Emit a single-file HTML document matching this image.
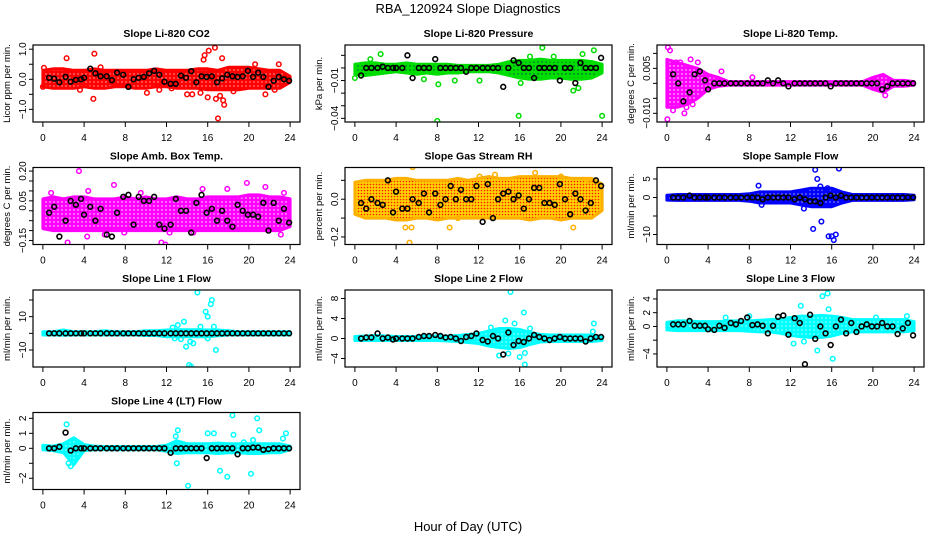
<!DOCTYPE html>
<html><head><meta charset="utf-8"><style>
html,body{margin:0;padding:0;background:#fff;}
svg{display:block;font-family:"Liberation Sans",Arial,sans-serif;}
</style></head><body>
<svg id="chart" width="936" height="540" viewBox="0 0 936 540">
<defs>
<pattern id="pat-red" width="4" height="4" patternUnits="userSpaceOnUse"><rect width="4" height="4" fill="#ff0000"/><circle cx="2" cy="2" r="0.6" fill="#fff"/></pattern>
<pattern id="pat-green" width="4" height="4" patternUnits="userSpaceOnUse"><rect width="4" height="4" fill="#00e000"/><circle cx="2" cy="2" r="0.7" fill="#044"/></pattern>
<pattern id="pat-magenta" width="4" height="4" patternUnits="userSpaceOnUse"><rect width="4" height="4" fill="#ff00ff"/><circle cx="2" cy="2" r="0.7" fill="#fff"/></pattern>
<pattern id="pat-rh" width="3" height="3" patternUnits="userSpaceOnUse"><rect width="3" height="3" fill="#ffd000"/><circle cx="1.5" cy="1.5" r="0.8" fill="#ff2000"/></pattern>
<pattern id="pat-blue" width="4" height="4" patternUnits="userSpaceOnUse"><rect width="4" height="4" fill="#0000ff"/><circle cx="2" cy="2" r="0.6" fill="#fff"/></pattern>
<pattern id="pat-cyan" width="4" height="4" patternUnits="userSpaceOnUse"><rect width="4" height="4" fill="#00ffff"/><circle cx="2" cy="2" r="0.6" fill="#fff"/></pattern>
</defs>
<text x="468" y="13" text-anchor="middle" font-size="13">RBA_120924  Slope Diagnostics</text>
<text x="468" y="531" text-anchor="middle" font-size="13">Hour of Day (UTC)</text>
</svg>
<script>
// shared x data
const bandHours = [0,1,2,3,4,5,6,7,8,9,10,11,12,13,14,15,16,17,18,19,20,21,22,23,24];
const blackHours = [0.6,1.1,1.6,2.2,2.7,3.2,3.7,4.0,4.6,5.1,5.6,6.2,6.7,7.2,7.8,8.3,8.8,9.3,9.8,10.3,10.8,11.3,11.8,12.4,12.9,13.4,13.9,14.4,14.9,15.4,15.9,16.4,16.9,17.4,17.9,18.4,18.9,19.4,19.9,20.4,20.9,21.4,21.9,22.4,22.9,23.4,23.9];
const xTicks = [0,4,8,12,16,20,24];

// Panel 1: CO2
const co2Lo = [-0.25,-0.3,-0.3,-0.3,-0.25,-0.3,-0.3,-0.25,-0.25,-0.3,-0.3,-0.25,-0.25,-0.3,-0.3,-0.3,-0.35,-0.35,-0.35,-0.35,-0.3,-0.3,-0.3,-0.3,-0.1];
const co2Hi = [0.3,0.35,0.35,0.3,0.3,0.35,0.3,0.3,0.3,0.3,0.3,0.35,0.3,0.3,0.3,0.35,0.35,0.3,0.4,0.4,0.4,0.35,0.3,0.3,0.1];
const co2OutX = [2.3,3.6,5.0,4.9,5.6,10.1,15.6,15.7,16.1,16.7,16.8,17.0,17.2,17.4,17.6,17.5,16.0,14.0,14.5,15.3,18.5,20.6,21.6,22.9,22.5,12.5,11.3,0.0,0.1];
const co2OutY = [0.7,-0.35,0.85,-0.65,0.4,-0.45,0.65,0.8,0.95,1.05,-0.65,-1.3,-0.55,0.7,-0.85,-0.7,-0.6,-0.5,-0.5,-0.45,-0.4,0.5,-0.5,0.5,-0.35,-0.3,-0.35,-0.25,0.38];
const co2BlackY = [0.05,0.02,-0.1,0.08,-0.08,-0.02,0.0,0.05,0.35,0.2,0.1,0.1,-0.03,0.22,0.15,-0.25,0.0,0.05,0.08,0.2,0.28,0.15,-0.08,-0.15,-0.15,0.12,0.05,0.27,-0.1,0.1,0.08,0.1,-0.1,0.03,0.15,0.1,0.08,0.1,0.28,0.08,0.22,0.08,-0.25,-0.05,0.08,0.0,-0.05];
const co2Ticks = [-1,-0.5,0,0.5,1];
const co2TickLabels = ["\u22121.0","","0.0","","1.0"];

// Panel 2: Pressure
const presLo = [-0.005,-0.006,-0.005,-0.004,-0.003,-0.004,-0.005,-0.004,-0.005,-0.004,-0.004,-0.003,-0.003,-0.003,-0.004,-0.006,-0.008,-0.009,-0.009,-0.008,-0.008,-0.009,-0.009,-0.008,-0.004];
const presHi = [0.003,0.004,0.004,0.003,0.003,0.004,0.003,0.003,0.003,0.003,0.002,0.002,0.002,0.002,0.003,0.005,0.006,0.006,0.007,0.006,0.006,0.006,0.006,0.005,0.003];
const presOutX = [2.5,8.0,8.1,15.9,24.0,18.2,23.2,21.2,12.1,9.7,6.7,0.0,1.5,16.1,21.7,19.3,22.1,17.0];
const presOutY = [0.011,-0.042,-0.013,-0.038,-0.038,0.016,0.014,-0.018,-0.01,-0.01,-0.009,-0.008,0.007,-0.012,-0.016,0.009,0.011,0.009];
const presBlackY = [-0.006,0,0,0,0.001,0,0,0,0,0.01,-0.008,0,0,0,0.007,0,0,0,0,0,-0.003,0,0,0,0,0,0,-0.015,0,0.006,0.004,0,0,-0.008,0,0,0,0,-0.01,0,0,-0.012,0.004,0,0,0,0.008];
const presTicks = [0.01,0,-0.01,-0.02,-0.03,-0.04];
const presTickLabels = ["","","\u22120.01","","","\u22120.04"];

// Panel 3: Li-820 Temp
const tempLo = [-0.008,-0.008,-0.007,-0.005,-0.002,-0.001,-0.0006,-0.0006,-0.0006,-0.0006,-0.0006,-0.0006,-0.0006,-0.0006,-0.0006,-0.0006,-0.0006,-0.0006,-0.0006,-0.0006,-0.002,-0.003,-0.001,-0.001,-0.0006];
const tempHi = [0.008,0.007,0.006,0.005,0.003,0.002,0.0006,0.0006,0.0006,0.0006,0.0006,0.0006,0.0006,0.0006,0.0006,0.0006,0.0006,0.0006,0.0006,0.0006,0.002,0.003,0.001,0.001,0.0006];
const tempOutX = [0.1,0.3,0.05,0.6,1.7,2.5,1.3,2.3,5.3,8.3,21.2,0.9,1.9,3.0];
const tempOutY = [0.012,0.011,-0.012,-0.009,-0.01,-0.007,0.007,0.008,0.004,0.002,-0.004,0.007,-0.008,0.007];
const tempBlackY = [0.003,0,-0.006,-0.003,0.003,0.004,0.001,-0.002,0,0,0,0,0,0,0,0,0,0,0.001,0,0.001,0,-0.001,0,0,0,0,0,0,0,-0.001,0,0,0,0,0,0,0,0,0,-0.002,-0.001,0,0,0,0,0];
const tempTicks = [0.01,0.005,0,-0.005,-0.01];
const tempTickLabels = ["","0.005","","","\u22120.010"];

// Panel 4: Amb box temp
const ambLo = [-0.09,-0.1,-0.1,-0.1,-0.1,-0.1,-0.1,-0.1,-0.1,-0.1,-0.1,-0.1,-0.1,-0.1,-0.1,-0.1,-0.1,-0.1,-0.1,-0.1,-0.1,-0.1,-0.1,-0.1,-0.08];
const ambHi = [0.06,0.07,0.06,0.07,0.07,0.06,0.06,0.06,0.07,0.06,0.07,0.06,0.06,0.07,0.06,0.06,0.07,0.07,0.07,0.07,0.08,0.08,0.07,0.07,0.06];
const ambOutX = [3.5,0.8,2.4,4.3,4.4,6.9,11.5,11.9,21.1,19.8,21.6,12.3,14.6,23.1,23.4,17.9,15.5,9.5,7.9,6.0];
const ambOutY = [0.2,0.09,-0.16,-0.13,0.1,0.13,-0.16,-0.17,-0.2,0.14,0.12,-0.11,-0.11,-0.12,0.09,0.11,0.11,0.09,-0.11,-0.12];
const ambBlackY = [-0.01,0.02,-0.13,-0.05,0.05,0.03,0.06,-0.02,0.02,-0.05,0.01,-0.12,-0.13,-0.01,0.07,0.08,-0.07,0.07,0.05,0.05,0.07,-0.07,-0.09,-0.07,0.06,0.0,0.0,-0.11,0.04,0.08,-0.01,0.01,-0.05,0.0,-0.05,-0.08,0.03,0.0,-0.02,-0.02,-0.03,0.04,-0.1,0.04,-0.05,0.01,-0.06];
const ambTicks = [0.2,0.15,0.1,0.05,0,-0.05,-0.1,-0.15];
const ambTickLabels = ["0.20","","","0.05","","","","\u22120.15"];

// Panel 5: Gas stream RH
const rhLo = [-0.08,-0.1,-0.1,-0.1,-0.11,-0.11,-0.1,-0.1,-0.11,-0.1,-0.1,-0.1,-0.1,-0.1,-0.1,-0.1,-0.1,-0.11,-0.1,-0.1,-0.11,-0.1,-0.1,-0.1,-0.06];
const rhHi = [0.09,0.1,0.1,0.1,0.11,0.11,0.1,0.1,0.1,0.1,0.11,0.1,0.11,0.12,0.11,0.11,0.12,0.12,0.12,0.12,0.12,0.11,0.11,0.11,0.08];
const rhOutX = [5.5,5.3,5.6,9.2,12.1,20.0,22.7,21.2,10.0,4.9,17.5,13.6];
const rhOutY = [-0.15,-0.23,0.17,-0.15,0.12,0.12,0.1,-0.15,-0.1,-0.15,0.14,0.13];
const rhBlackY = [-0.02,-0.05,0.0,-0.02,-0.03,0.1,-0.07,0.04,-0.05,-0.05,0.0,-0.02,0.03,-0.07,0.03,-0.03,0.0,0.07,0.0,0.05,0.0,0.0,0.07,-0.12,0.08,-0.1,0.0,0.03,0.04,0.0,0.02,-0.05,0.0,0.06,0.06,-0.02,-0.02,-0.03,0.08,0.0,-0.08,0.03,0.0,-0.06,-0.02,0.1,0.07];
const rhTicks = [0.1,0,-0.1,-0.2];
const rhTickLabels = ["","0.0","","\u22120.2"];

// Panel 6: Sample flow
const sfLo = [-0.7,-0.8,-0.8,-0.8,-0.8,-0.8,-0.8,-0.8,-1.0,-1.5,-1.5,-1.5,-1.5,-2,-2.5,-2.5,-2.5,-1.5,-0.8,-0.8,-0.8,-0.8,-0.8,-0.8,-0.6];
const sfHi = [0.6,0.8,0.8,0.8,0.8,0.8,0.8,0.8,1.0,1.5,1.5,1.5,1.5,2,2.5,2.5,2.5,1.5,0.8,0.8,0.8,0.8,0.8,0.8,0.6];
const sfOutX = [8.9,14.4,14.6,14.9,15.0,14.2,15.7,16.0,16.2,16.4,16.7,9.2,13.3,15.6];
const sfOutY = [3.2,7.5,5.0,3.0,-6.5,-8.5,-10.5,-10.5,-11.5,-10,7.8,-2,-3,2.5];
const sfBlackY = [0,0,0,0.5,0,0,0,0,0,0,0,0,0,0,0,0,0,-0.5,0,0,0,0,0,-0.5,0,-0.5,-1,-1,-1.5,0,0.5,0,0.5,0,0,0,0,0,0,0,0,0,0,0,0,0,0];
const sfTicks = [5,0,-5,-10];
const sfTickLabels = ["5","0","","\u221210"];

// Panel 7: Line 1 flow
const l1Lo = [-1,-1,-1.2,-1,-1,-1,-1,-1,-1,-1,-1.3,-1.3,-2,-2,-2,-2,-2,-1.5,-1,-1,-1,-1,-1,-1,-1];
const l1Hi = [1,1,2,1,1,1,1.5,1,1,1,1.5,1.5,2,2.2,2.2,2.2,2,2,1.5,1,1,1,1,1,1];
const l1OutX = [12.8,12.6,13.1,13.7,13.4,13.9,14.2,14.4,14.3,14.6,15.0,15.3,15.8,16.0,16.4,16.3,16.6,16.8,16.0];
const l1OutY = [-3,3.5,5,7,-3.5,-8,-19,-20,-5,-6,24.5,4,13,10,20,17.5,4,-10,-3];
const l1BlackY = [0,0,0,0,0,0,0,0,0,0,0,0,0,0,0,0,0,0,0,0,0,0,0,0,0,0,0,0,0,0,0,0,0,0,0,0,0,0,0,0,0,0,0,0,0,0,0];
const l1Ticks = [20,10,0,-10];
const l1TickLabels = ["","10","","\u221210"];

// Panel 8: Line 2 flow
const l2Lo = [-0.4,-0.4,-0.4,-0.4,-0.4,-0.4,-0.4,-0.4,-0.4,-0.5,-0.6,-0.8,-1,-1.5,-1.8,-2,-1.8,-1.2,-0.7,-0.6,-0.6,-0.6,-0.6,-0.6,-0.4];
const l2Hi = [0.4,0.5,0.6,0.5,0.4,0.4,0.4,0.5,0.5,0.5,0.6,0.8,1,1.5,2,2,1.8,1.2,0.8,0.7,0.7,0.7,0.7,0.7,0.4];
const l2OutX = [13.2,14.0,14.6,15.1,15.5,16.0,16.4,16.5,16.5,14.9,17.0,23.2,23.1];
const l2OutY = [2.2,-3.4,3.6,9.3,3,-3.7,5.2,-2.9,-5.2,-3,2,3,1.4];
const l2BlackY = [0,0.2,0.2,1,0,0.2,-0.2,0,0,0,0,0.3,0.5,0.5,0.7,0.5,0.2,0.3,0,-0.5,0.3,0.5,1,-0.3,-0.6,0.5,0,-3.2,1.2,-1.3,-0.5,-0.7,0,0.7,0.3,0,-0.3,0,0.3,0,0,0,0,-0.6,0,0.3,0.3];
const l2Ticks = [8,4,0,-4];
const l2TickLabels = ["8","4","0","\u22124"];

// Panel 9: Line 3 flow
const l3Lo = [-0.5,-0.6,-0.6,-0.6,-0.6,-0.6,-0.6,-0.6,-0.7,-0.8,-0.8,-1,-1.3,-1.5,-1.6,-1.6,-1.4,-1,-0.8,-0.8,-0.8,-0.8,-0.8,-0.8,-0.6];
const l3Hi = [0.6,0.8,0.8,0.7,0.7,0.7,0.8,0.8,0.8,0.9,1,1.1,1.3,1.5,1.5,1.6,1.5,1.3,1,1,1,1,1,1,0.7];
const l3OutX = [13.0,15.1,15.6,15.7,14.6,16.1,12.3,13.3,5.7,8.0,20.3,23.3];
const l3OutY = [3,4.4,4.8,2.5,-3.5,-4.7,-2.5,-2.2,1.3,1.5,1.3,1.5];
const l3BlackY = [0.3,0.3,0.3,0.8,0.1,0.1,0.1,-0.4,-0.5,0.1,-0.2,0.5,0.3,0.8,1.3,0.2,0.3,0.1,-1,0.1,1.4,1.6,-1.2,1.2,0.5,-5.5,1.7,-1.8,0,-1,-2.7,0,1,-1,0.5,-0.8,0,0.3,0,0,0.5,0,0,-1.1,-0.3,0.5,-1.3];
const l3Ticks = [4,2,0,-2,-4];
const l3TickLabels = ["4","2","0","","\u22124"];

// Panel 10: Line 4 (LT) flow
const l4Lo = [-0.1,-0.15,-0.3,-1.1,-0.15,-0.1,-0.1,-0.1,-0.1,-0.1,-0.1,-0.1,-0.2,-0.35,-0.3,-0.3,-0.3,-0.35,-0.3,-0.3,-0.35,-0.35,-0.3,-0.3,-0.1];
const l4Hi = [0.2,0.15,0.3,0.7,0.25,0.15,0.12,0.12,0.12,0.12,0.12,0.12,0.2,0.5,0.3,0.3,0.3,0.35,0.3,0.3,0.3,0.3,0.3,0.3,0.15];
const l4OutX = [2.3,2.5,2.7,12.9,13.1,13.0,14.1,16.0,16.6,17.2,17.9,18.4,18.5,20.2,20.8,21.0,23.3,23.6,20.4,19.5];
const l4OutY = [1.6,-1.0,-1.2,0.8,1.2,-1,-2.5,1.0,1.0,-1.5,-1.9,2.2,0.9,-1.7,2.0,1.2,0.65,1.0,0.55,0.4];
const l4BlackY = [0,0,0.1,1.05,-0.15,0,0,0,0,0,0,0,0,0,0,0,0,0,0,0,0,0,0,-0.3,0,0,0,0,0,0,-0.65,0,0,0,0,0,-0.4,0,0,0.05,0.05,-0.1,-0.05,0,0,0,0];
const l4Ticks = [2,1,0,-1,-2];
const l4TickLabels = ["2","1","0","","\u22122"];

const NS = "http://www.w3.org/2000/svg";
const svg = document.getElementById('chart');
function mk(tag, attrs, parent){
  const e = document.createElementNS(NS, tag);
  for (const k in attrs) e.setAttribute(k, attrs[k]);
  (parent||svg).appendChild(e);
  return e;
}
const colX = [33, 345, 657];
const rowY = [45, 167.5, 290, 412.5];
const W = 267, H = 77;

const panels = [
 {name:'co2', title:'Slope Li-820 CO2', ylab:'Licor ppm per min.', c:0, r:0, ymin:-1.42, ymax:1.14, color:'#ff0000', pat:'pat-red', lo:co2Lo, hi:co2Hi, ox:co2OutX, oy:co2OutY, by:co2BlackY, ticks:co2Ticks, tl:co2TickLabels},
 {name:'pressure', title:'Slope Li-820 Pressure', ylab:'kPa per min.', c:1, r:0, ymin:-0.0429, ymax:0.0182, color:'#00dd00', pat:'pat-green', lo:presLo, hi:presHi, ox:presOutX, oy:presOutY, by:presBlackY, ticks:presTicks, tl:presTickLabels},
 {name:'li820-temp', title:'Slope Li-820 Temp.', ylab:'degrees C per min.', c:2, r:0, ymin:-0.0129, ymax:0.0128, color:'#ff00ff', pat:'pat-magenta', lo:tempLo, hi:tempHi, ox:tempOutX, oy:tempOutY, by:tempBlackY, ticks:tempTicks, tl:tempTickLabels},
 {name:'amb-box-temp', title:'Slope Amb. Box Temp.', ylab:'degrees C per min.', c:0, r:1, ymin:-0.17, ymax:0.218, color:'#ff00ff', pat:'pat-magenta', lo:ambLo, hi:ambHi, ox:ambOutX, oy:ambOutY, by:ambBlackY, ticks:ambTicks, tl:ambTickLabels},
 {name:'gas-stream-rh', title:'Slope Gas Stream RH', ylab:'percent per min.', c:1, r:1, ymin:-0.24, ymax:0.168, color:'#ffb000', pat:'pat-rh', lo:rhLo, hi:rhHi, ox:rhOutX, oy:rhOutY, by:rhBlackY, ticks:rhTicks, tl:rhTickLabels},
 {name:'sample-flow', title:'Slope Sample Flow', ylab:'ml/min per min.', c:2, r:1, ymin:-12.7, ymax:8.1, color:'#0000ff', pat:'pat-blue', lo:sfLo, hi:sfHi, ox:sfOutX, oy:sfOutY, by:sfBlackY, ticks:sfTicks, tl:sfTickLabels},
 {name:'line1-flow', title:'Slope Line 1 Flow', ylab:'ml/min per min.', c:0, r:2, ymin:-20.2, ymax:26, color:'#00ffff', pat:'pat-cyan', lo:l1Lo, hi:l1Hi, ox:l1OutX, oy:l1OutY, by:l1BlackY, ticks:l1Ticks, tl:l1TickLabels},
 {name:'line2-flow', title:'Slope Line 2 Flow', ylab:'ml/min per min.', c:1, r:2, ymin:-5.7, ymax:9.7, color:'#00ffff', pat:'pat-cyan', lo:l2Lo, hi:l2Hi, ox:l2OutX, oy:l2OutY, by:l2BlackY, ticks:l2Ticks, tl:l2TickLabels},
 {name:'line3-flow', title:'Slope Line 3 Flow', ylab:'ml/min per min.', c:2, r:2, ymin:-5.9, ymax:5.3, color:'#00ffff', pat:'pat-cyan', lo:l3Lo, hi:l3Hi, ox:l3OutX, oy:l3OutY, by:l3BlackY, ticks:l3Ticks, tl:l3TickLabels},
 {name:'line4-flow', title:'Slope Line 4 (LT) Flow', ylab:'ml/min per min.', c:0, r:3, ymin:-2.75, ymax:2.39, color:'#00ffff', pat:'pat-cyan', lo:l4Lo, hi:l4Hi, ox:l4OutX, oy:l4OutY, by:l4BlackY, ticks:l4Ticks, tl:l4TickLabels}
];

panels.forEach((p, idx) => {
  const L = colX[p.c], T = rowY[p.r], B = T + H;
  const xs = v => L + W * (v + 0.96) / 25.92;
  const ys = v => B - H * (v - p.ymin) / (p.ymax - p.ymin);
  const g = mk('g', {});
  
  
  const cp = mk('clipPath', {id:'clip'+idx}, g);
  mk('rect', {x:L, y:T, width:W, height:H}, cp);

  const t = mk('text', {x:L + W/2, y:T - 8, 'text-anchor':'middle', 'font-size':'10.5', 'font-weight':'bold'}, g);
  t.textContent = p.title;
  
  

  const yl = mk('text', {x:0, y:0, transform:`translate(${L-23},${T+H/2}) rotate(-90)`, 'text-anchor':'middle', 'font-size':'9.5'}, g);
  yl.textContent = p.ylab;
  
  

  const data = mk('g', {'clip-path':`url(#clip${idx})`}, g);
  let d = '';
  bandHours.forEach((h, i) => { d += (i ? 'L' : 'M') + xs(h).toFixed(1) + ',' + ys(p.hi[i]).toFixed(1); });
  for (let i = bandHours.length - 1; i >= 0; i--) d += 'L' + xs(bandHours[i]).toFixed(1) + ',' + ys(p.lo[i]).toFixed(1);
  d += 'Z';
  const band = mk('path', {d:d, fill:`url(#${p.pat})`, stroke:p.color, 'stroke-width':'3', 'stroke-linejoin':'round'}, data);
  
  

  const n = Math.min(p.ox.length, p.oy.length);
  for (let i = 0; i < n; i++) {
    const c = mk('circle', {cx:xs(p.ox[i]), cy:ys(p.oy[i]), r:2.3, fill:'none', stroke:p.color, 'stroke-width':'1.5'}, data);
    
    
  }
  const m = Math.min(blackHours.length, p.by.length);
  for (let i = 0; i < m; i++) {
    const c = mk('circle', {cx:xs(blackHours[i]), cy:ys(p.by[i]), r:2.4, fill:'none', stroke:'#000', 'stroke-width':'1.6'}, data);
    
    
  }

  const box = mk('rect', {x:L, y:T, width:W, height:H, fill:'none', stroke:'#000', 'stroke-width':'1.2'}, g);
  
  

  xTicks.forEach(v => {
    mk('line', {x1:xs(v), x2:xs(v), y1:B, y2:B+5, stroke:'#000', 'stroke-width':'1'}, g);
    const tx = mk('text', {x:xs(v), y:B+19, 'text-anchor':'middle', 'font-size':'10'}, g);
    tx.textContent = v;
    
    
  });
  p.ticks.forEach((v, i) => {
    mk('line', {x1:L-4, x2:L, y1:ys(v), y2:ys(v), stroke:'#000', 'stroke-width':'1'}, g);
    if (p.tl[i]) {
      const ty = mk('text', {x:0, y:0, transform:`translate(${L-7},${ys(v)}) rotate(-90)`, 'text-anchor':'middle', 'font-size':'10'}, g);
      ty.textContent = p.tl[i];
      
      
    }
  });
});
</script>
</body></html>
